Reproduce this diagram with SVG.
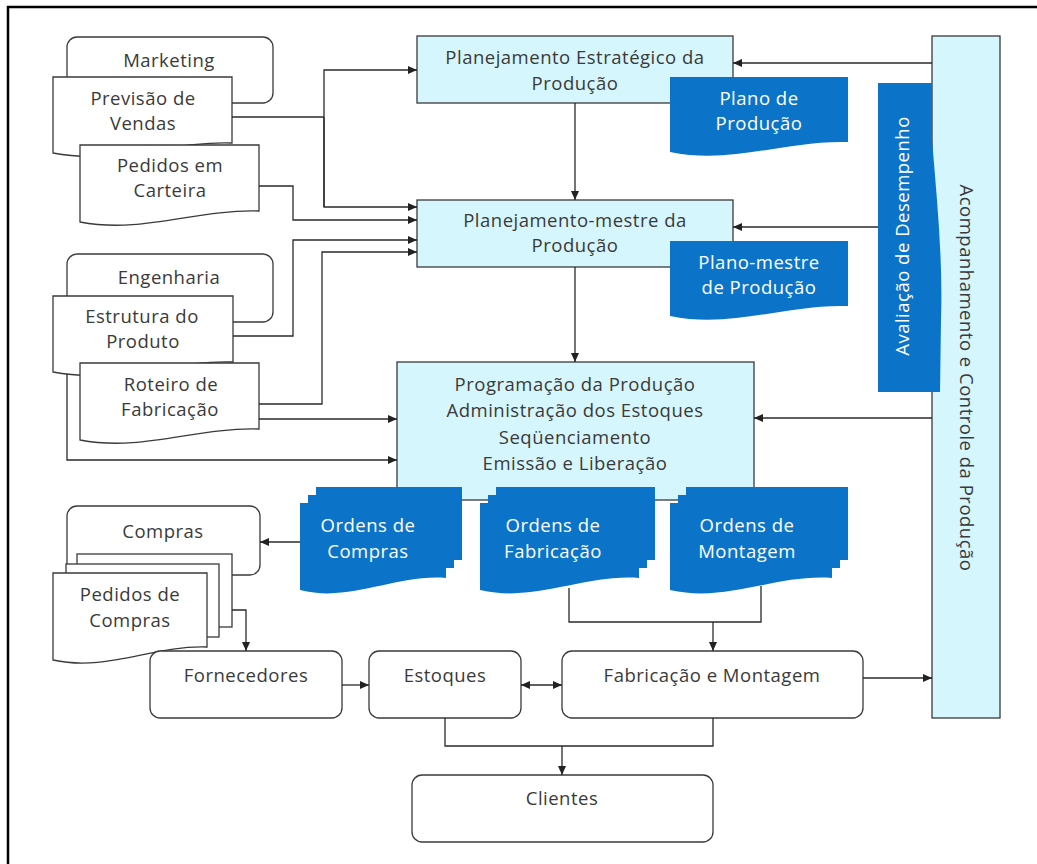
<svg xmlns="http://www.w3.org/2000/svg" width="1037" height="864" viewBox="0 0 1037 864">
  <defs>
    <marker id="arr" markerUnits="userSpaceOnUse" markerWidth="10" markerHeight="9" refX="9" refY="4" orient="auto">
      <path d="M0,0 L9,4 L0,8 Z" fill="#222"/>
    </marker>
    <marker id="arrStart" markerUnits="userSpaceOnUse" markerWidth="10" markerHeight="9" refX="0" refY="4" orient="auto">
      <path d="M9,0 L0,4 L9,8 Z" fill="#222"/>
    </marker>
    <style>
      .box { fill: #ffffff; stroke: #3a3a3a; stroke-width: 1.3; }
      .cyan { fill: #d6f6fd; stroke: #3a3a3a; stroke-width: 1.3; }
      .blue { fill: #0b74c9; stroke: none; }
      .t { font-family: "Open Sans", "Liberation Sans", sans-serif; font-size: 18.5px; letter-spacing: 0.5px; fill: #3a3a3a; text-anchor: middle; }
      .w { fill: #ffffff; }
      .con { fill: none; stroke: #2a2a2a; stroke-width: 1.3; }
    </style>
  </defs>

  <rect x="0" y="0" width="1037" height="864" fill="#ffffff"/>
  <!-- frame -->
  <path d="M8,864 V7 H1037" fill="none" stroke="#000" stroke-width="2.5"/>

  <!-- Marketing group -->
  <g id="marketing">
    <rect class="box" x="67" y="37" width="206" height="66" rx="10"/>
    <text class="t" x="169" y="67">Marketing</text>
  </g>
  <g id="previsao-vendas">
    <path class="box" d="M53,77 H232 V143 C169,141 116,165 53,153 Z"/>
    <text class="t" x="143" y="105">Previsão de</text>
    <text class="t" x="143" y="130">Vendas</text>
  </g>
  <g id="pedidos-carteira">
    <path class="box" d="M80,145 H259 V211 C196,209 143,234 80,222 Z"/>
    <text class="t" x="170" y="172">Pedidos em</text>
    <text class="t" x="170" y="197">Carteira</text>
  </g>

  <!-- Engenharia group -->
  <g id="engenharia">
    <rect class="box" x="67" y="254" width="206" height="68" rx="10"/>
    <text class="t" x="169" y="284">Engenharia</text>
  </g>
  <g id="estrutura-produto">
    <path class="box" d="M53,296 H233 V362 C170,360 116,384 53,372 Z"/>
    <text class="t" x="142" y="323">Estrutura do</text>
    <text class="t" x="143" y="348">Produto</text>
  </g>
  <g id="roteiro-fabricacao">
    <path class="box" d="M80,363 H259 V429 C196,427 143,452 80,440 Z"/>
    <text class="t" x="171" y="391">Roteiro de</text>
    <text class="t" x="170" y="416">Fabricação</text>
  </g>

  <!-- Planning boxes -->
  <g id="planejamento-estrategico">
    <rect class="cyan" x="417" y="36" width="316" height="67"/>
    <text class="t" x="575" y="64">Planejamento Estratégico da</text>
    <text class="t" x="575" y="90">Produção</text>
  </g>
  <g id="plano-producao">
    <path class="blue" d="M670,77 H848 V142 C786,140 732,165 670,152 Z"/>
    <text class="t w" x="759" y="105">Plano de</text>
    <text class="t w" x="759" y="130">Produção</text>
  </g>
  <g id="planejamento-mestre">
    <rect class="cyan" x="417" y="200" width="316" height="67"/>
    <text class="t" x="575" y="227">Planejamento-mestre da</text>
    <text class="t" x="575" y="252">Produção</text>
  </g>
  <g id="plano-mestre">
    <path class="blue" d="M670,241 H848 V306 C786,304 732,329 670,316 Z"/>
    <text class="t w" x="759" y="269">Plano-mestre</text>
    <text class="t w" x="759" y="294">de Produção</text>
  </g>
  <g id="programacao">
    <rect class="cyan" x="397" y="362" width="357" height="138"/>
    <text class="t" x="575" y="391">Programação da Produção</text>
    <text class="t" x="575" y="417">Administração dos Estoques</text>
    <text class="t" x="575" y="444">Seqüenciamento</text>
    <text class="t" x="575" y="470">Emissão e Liberação</text>
  </g>

  <!-- Order documents -->
  <g id="ordens-compras">
    <rect class="blue" x="316" y="487" width="146" height="73"/>
    <rect class="blue" x="308" y="495" width="146" height="73"/>
    <path class="blue" d="M300,503 H446 V578 C395,574 351,603 300,590 Z"/>
    <text class="t w" x="368" y="532">Ordens de</text>
    <text class="t w" x="368" y="558">Compras</text>
  </g>
  <g id="ordens-fabricacao">
    <rect class="blue" x="496" y="487" width="159" height="73"/>
    <rect class="blue" x="488" y="495" width="159" height="73"/>
    <path class="blue" d="M480,503 H639 V578 C583,574 536,603 480,590 Z"/>
    <text class="t w" x="553" y="532">Ordens de</text>
    <text class="t w" x="553" y="558">Fabricação</text>
  </g>
  <g id="ordens-montagem">
    <rect class="blue" x="686" y="487" width="162" height="73"/>
    <rect class="blue" x="678" y="495" width="162" height="73"/>
    <path class="blue" d="M670,503 H832 V578 C775,574 727,603 670,590 Z"/>
    <text class="t w" x="747" y="532">Ordens de</text>
    <text class="t w" x="747" y="558">Montagem</text>
  </g>

  <!-- Control column -->
  <g id="acompanhamento">
    <rect class="cyan" x="932" y="36" width="68" height="682"/>
    <text class="t" transform="translate(960,378) rotate(90)" x="0" y="0">Acompanhamento e Controle da Produção</text>
  </g>
  <g id="avaliacao">
    <path class="blue" d="M878,83 H932 V140 C937,200 943,260 941,320 L940,392 H878 Z"/>
    <text class="t w" transform="translate(909,236) rotate(-90)" x="0" y="0">Avaliação de Desempenho</text>
  </g>

  <!-- Purchasing -->
  <g id="compras">
    <rect class="box" x="67" y="506" width="193" height="69" rx="10"/>
    <text class="t" x="163" y="538">Compras</text>
  </g>
  <g id="pedidos-compras">
    <rect class="box" x="77" y="554" width="155" height="73"/>
    <rect class="box" x="66" y="564" width="153" height="73"/>
    <path class="box" d="M53,573 H207 V647 C153,645 107,672 53,660 Z"/>
    <text class="t" x="130" y="601">Pedidos de</text>
    <text class="t" x="130" y="627">Compras</text>
  </g>

  <!-- Bottom row -->
  <g id="fornecedores">
    <rect class="box" x="150" y="651" width="192" height="67" rx="10"/>
    <text class="t" x="246" y="682">Fornecedores</text>
  </g>
  <g id="estoques">
    <rect class="box" x="369" y="651" width="152" height="67" rx="10"/>
    <text class="t" x="445" y="682">Estoques</text>
  </g>
  <g id="fabricacao-montagem">
    <rect class="box" x="562" y="651" width="301" height="67" rx="10"/>
    <text class="t" x="712" y="682">Fabricação e Montagem</text>
  </g>
  <g id="clientes">
    <rect class="box" x="412" y="775" width="301" height="67" rx="10"/>
    <text class="t" x="562" y="805">Clientes</text>
  </g>

  <!-- Connectors -->
  <g id="connectors">
    <path class="con" d="M232,117 H324"/>
    <path class="con" d="M324,207 V70 H417" marker-end="url(#arr)"/>
    <path class="con" d="M324,117 V207 H417" marker-end="url(#arr)"/>
    <path class="con" d="M259,186 H293 V220 H417" marker-end="url(#arr)"/>
    <path class="con" d="M233,336 H293 V240 H417" marker-end="url(#arr)"/>
    <path class="con" d="M259,404 H322 V252 H417" marker-end="url(#arr)"/>
    <path class="con" d="M259,419 H397" marker-end="url(#arr)"/>
    <path class="con" d="M67,374 V460 H397" marker-end="url(#arr)"/>
    <path class="con" d="M575,103 V200" marker-end="url(#arr)"/>
    <path class="con" d="M575,267 V362" marker-end="url(#arr)"/>
    <path class="con" d="M932,63 H733" marker-end="url(#arr)"/>
    <path class="con" d="M878,227 H733" marker-end="url(#arr)"/>
    <path class="con" d="M932,418 H754" marker-end="url(#arr)"/>
    <path class="con" d="M300,542 H260" marker-end="url(#arr)"/>
    <path class="con" d="M232,610 H246 V651" marker-end="url(#arr)"/>
    <path class="con" d="M342,685 H369" marker-end="url(#arr)"/>
    <path class="con" d="M521,685 H562" marker-start="url(#arrStart)" marker-end="url(#arr)"/>
    <path class="con" d="M569,588 V622 H761 V586"/>
    <path class="con" d="M713,622 V651" marker-end="url(#arr)"/>
    <path class="con" d="M445,718 V746 H713 V718"/>
    <path class="con" d="M562,746 V775" marker-end="url(#arr)"/>
    <path class="con" d="M863,678 H932" marker-end="url(#arr)"/>
  </g>
</svg>
